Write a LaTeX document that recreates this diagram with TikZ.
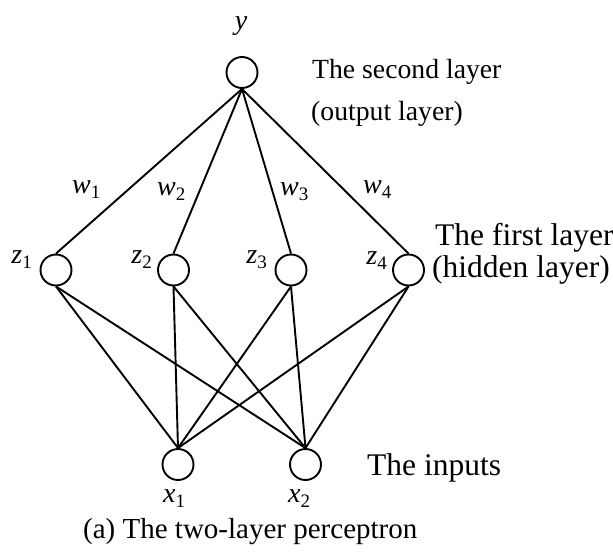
\documentclass[tikz,border=0pt]{standalone}
\usepackage{fontspec}
\setmainfont{Liberation Serif}
\newcommand\mylab[2]{\textit{#1}\raisebox{-0.21em}{\fontsize{19}{19}\selectfont #2}}
\tikzset{
  neuron/.style={circle, draw, line width=1.9pt, minimum size=31pt, inner sep=0pt},
  conn/.style={line width=1.9pt},
  mlab/.style={inner sep=0pt, font=\fontsize{28}{28}\selectfont},
  big/.style={inner sep=0pt, anchor=base west, font=\fontsize{31.5}{31.5}\selectfont},
  mid/.style={inner sep=0pt, anchor=base west, font=\fontsize{27.7}{27.7}\selectfont},
}
\begin{document}
\begin{tikzpicture}[x=1pt,y=-1pt]
\useasboundingbox (0,0) rectangle (613,552);
% nodes
\node[neuron] (y) at (242,72.5) {};
\node[neuron] (z1) at (56,270) {};
\node[neuron] (z2) at (173.5,270) {};
\node[neuron] (z3) at (291,270) {};
\node[neuron] (z4) at (408.5,270) {};
\node[neuron] (x1) at (178,464.5) {};
\node[neuron] (x2) at (305.5,464.5) {};
% connectors
\foreach \z in {z1,z2,z3,z4} {
  \draw[conn] (y.south) -- (\z.north);
  \draw[conn] (\z.south) -- (x1.north);
  \draw[conn] (\z.south) -- (x2.north);
}
% labels
\node[mlab, anchor=base] (ly) at (241,29) {\textit{y}};
\node[mlab, anchor=base east] (lz1) at (32,263) {\mylab{z}{1}};
\node[mlab, anchor=base east] (lz2) at (152,263) {\mylab{z}{2}};
\node[mlab, anchor=base east] (lz3) at (267,263) {\mylab{z}{3}};
\node[mlab, anchor=base east] (lz4) at (387,264) {\mylab{z}{4}};
\node[mlab, anchor=base west] (lw1) at (72,193) {\mylab{w}{1}};
\node[mlab, anchor=base west] (lw2) at (157,195) {\mylab{w}{2}};
\node[mlab, anchor=base west] (lw3) at (280,195) {\mylab{w}{3}};
\node[mlab, anchor=base west] (lw4) at (363,193) {\mylab{w}{4}};
\node[mlab, anchor=base west] (lx1) at (163,502) {\mylab{x}{1}};
\node[mlab, anchor=base west] (lx2) at (288,502) {\mylab{x}{2}};
\node[mid] (t1) at (312,78) {The second layer};
\node[mid] (t2) at (311,120) {(output layer)};
\node[big] (t3) at (435,245) {The first layer};
\node[big] (t4) at (432,277) {(hidden layer)};
\node[big] (t5) at (367,475) {The inputs};
\node[inner sep=0pt, anchor=base west, font=\fontsize{29}{29}\selectfont] (cap) at (83,538) {(a) The two-layer perceptron};
\end{tikzpicture}
\end{document}
